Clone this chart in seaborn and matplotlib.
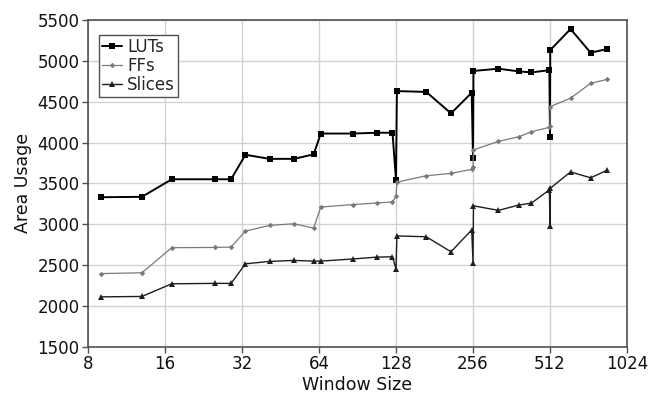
import matplotlib
matplotlib.use("Agg")
import matplotlib.pyplot as plt
import seaborn as sns
import pandas as pd

# Window sizes and resource usage per implementation
window_size = [9, 13, 17, 25, 29, 33, 41, 51, 61, 65, 87, 108, 124, 128, 129,
               168, 210, 253, 256, 257, 322, 387, 433, 509, 512, 513, 616, 738, 858]
luts = [3330, 3335, 3550, 3550, 3550, 3850, 3800, 3800, 3855, 4110, 4110, 4120, 4120,
        3540, 4630, 4620, 4357, 4610, 3806, 4877, 4904, 4871, 4859, 4886, 4071, 5132,
        5390, 5100, 5145]
ffs = [2395, 2405, 2712, 2715, 2720, 2915, 2985, 3005, 2952, 3210, 3240, 3260, 3272,
       3340, 3515, 3593, 3622, 3672, 3700, 3910, 4014, 4071, 4132, 4186, 4200, 4440,
       4543, 4725, 4774]
slices = [2110, 2115, 2270, 2275, 2275, 2515, 2544, 2556, 2548, 2548, 2574, 2597, 2601,
          2450, 2856, 2846, 2662, 2930, 2528, 3225, 3169, 3235, 3258, 3420, 2978, 3440,
          3640, 3568, 3662]

series_names = ["LUTs", "FFs", "Slices"]
x_ticks = [8, 16, 32, 64, 128, 256, 512, 1024]
y_ticks = [1500, 2000, 2500, 3000, 3500, 4000, 4500, 5000, 5500]

df = pd.concat([
    pd.DataFrame({"Window Size": window_size, "Area Usage": vals, "Resource": name})
    for name, vals in zip(series_names, [luts, ffs, slices])
], ignore_index=True)

sns.set_theme(style="whitegrid")
plt.rcParams["font.family"] = ["DejaVu Sans"]

fig = plt.figure(figsize=(6.53, 4.01), dpi=100)
ax = fig.add_axes([0.1348, 0.1355, 0.8254, 0.8145])

palette = {"LUTs": "#000000", "FFs": "#7a7a7a", "Slices": "#1e1e1e"}
markers = {"LUTs": "s", "FFs": "D", "Slices": "^"}
sizes = {"LUTs": 1.4, "FFs": 0.9, "Slices": 1.0}

sns.lineplot(data=df, x="Window Size", y="Area Usage", hue="Resource", style="Resource",
             size="Resource", sizes=sizes, palette=palette, markers=markers, dashes=False,
             estimator=None, sort=False, ax=ax, legend=False)

msizes = {"LUTs": 4.6, "FFs": 2.8, "Slices": 4.4}
for line, name in zip(ax.get_lines(), series_names):
    line.set_markersize(msizes[name])
    line.set_markeredgewidth(0)
    line.set_label(name)

ax.set_xscale("log", base=2)
ax.set_xlim(8, 1024)
ax.set_ylim(1500, 5500)
ax.set_xticks(x_ticks)
ax.set_xticklabels([str(t) for t in x_ticks])
ax.set_yticks(y_ticks)
ax.minorticks_off()

ax.grid(True, color="#d2d2d2", linewidth=1.0)
for sp in ax.spines.values():
    sp.set_visible(True)
    sp.set_color("#505050")
    sp.set_linewidth(1.2)
ax.tick_params(axis="both", which="major", direction="out", length=4, width=1.0,
               color="#505050", labelsize=12, labelcolor="#111111", pad=2,
               bottom=True, left=True)

ax.set_xlabel("Window Size", fontsize=12.5, color="#111111", labelpad=2)
ax.set_ylabel("Area Usage", fontsize=12.5, color="#111111", labelpad=4)

leg = ax.legend(loc="upper left", bbox_to_anchor=(0.014, 0.965), fontsize=12,
                frameon=True, fancybox=False, framealpha=1, edgecolor="#505050",
                handlelength=1.2, handletextpad=0.3, labelspacing=0.05,
                borderpad=0.2, borderaxespad=0.2)
leg.get_frame().set_linewidth(1.0)

fig.savefig("out.png", dpi=100)
